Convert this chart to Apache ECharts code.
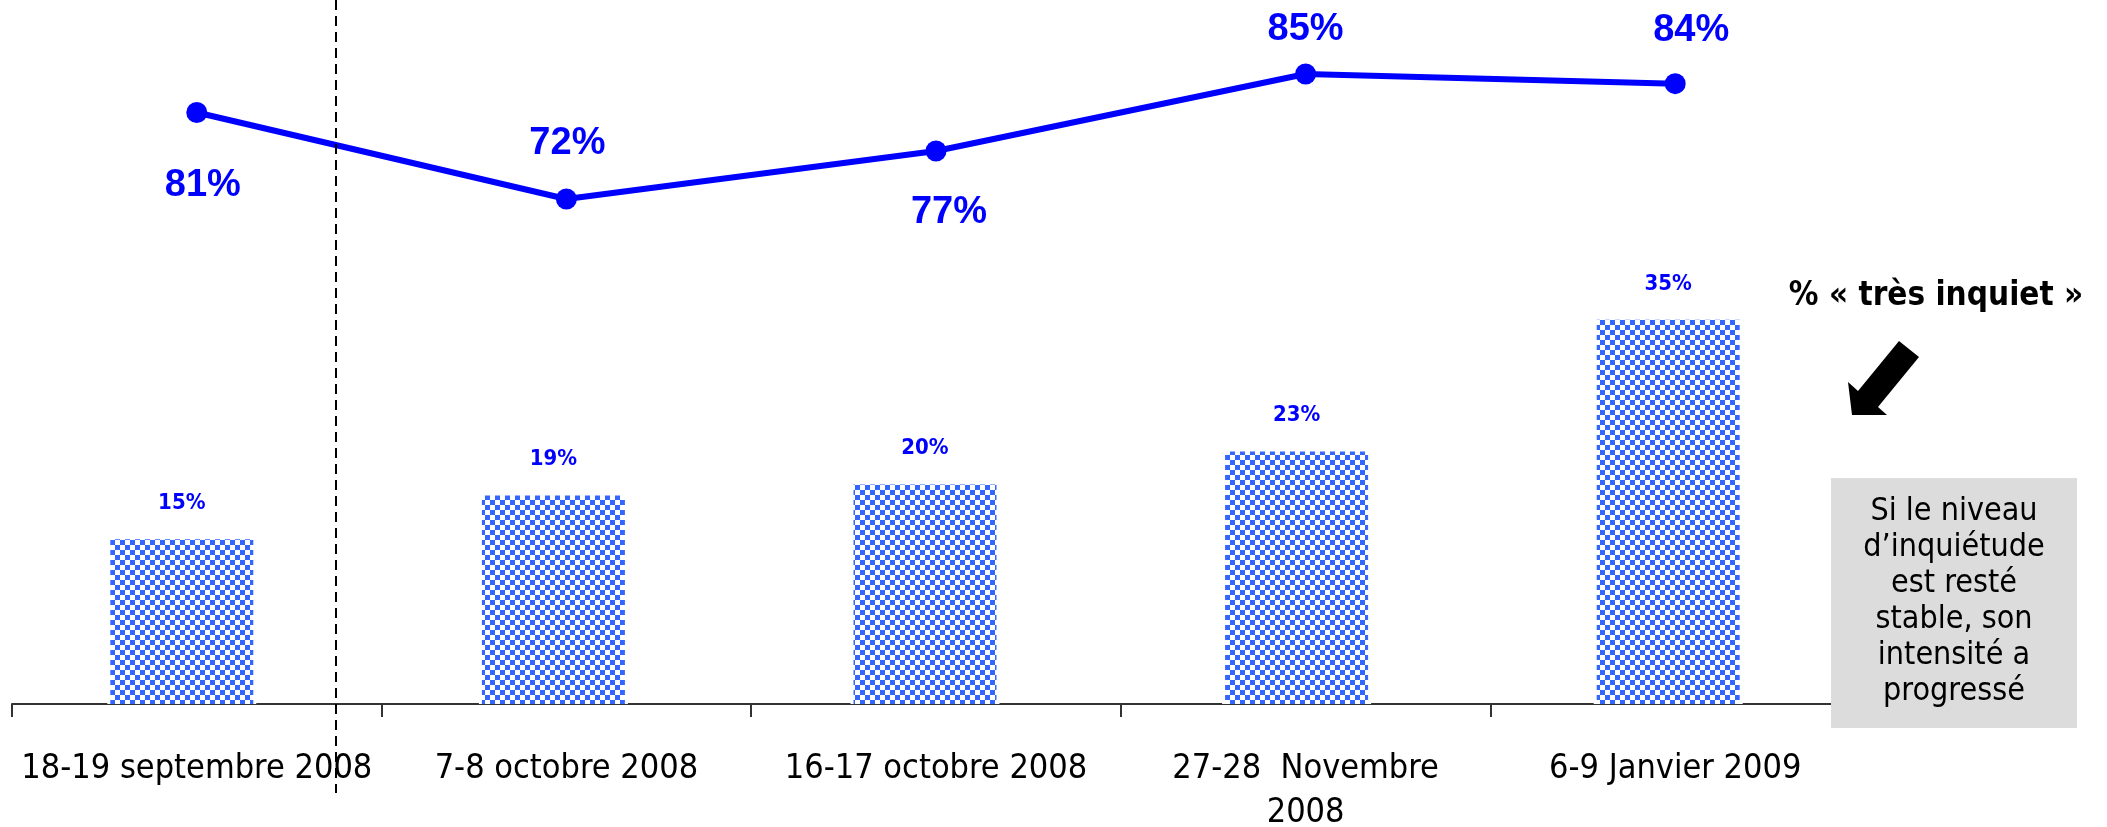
<!DOCTYPE html>
<html>
<head>
<meta charset="utf-8">
<script src="https://cdn.jsdelivr.net/npm/echarts@6/dist/echarts.min.js"></script>
<style>
  html, body { margin: 0; padding: 0; background: #fff; }
  #chart { width: 2107px; height: 827px; }
</style>
</head>
<body>
<div id="chart"></div>
<script>
// data
const categories = ['18-19 septembre 2008', '7-8 octobre 2008', '16-17 octobre 2008', '27-28  Novembre\n2008', '6-9 Janvier 2009'];
const inquietValues = [81, 72, 77, 85, 84];
const tresInquietValues = [15, 19, 20, 23, 35];

const condensed = "'DejaVu Sans Condensed', 'DejaVu Sans', sans-serif";
const blue = '#0000FF';

// checkerboard fill for the bars
function checker() {
    const c = document.createElement('canvas');
    c.width = 10;
    c.height = 10;
    const ctx = c.getContext('2d');
    ctx.fillStyle = '#ffffff';
    ctx.fillRect(0, 0, 10, 10);
    ctx.fillStyle = '#3366FF';
    ctx.fillRect(0, 0, 5, 5);
    ctx.fillRect(5, 5, 5, 5);
    return c;
}

// where each line label sits around its point
const lineLabelPlace = [
    { position: 'bottom', distance: 44, dx: 6 },
    { position: 'top', distance: 26, dx: 1 },
    { position: 'bottom', distance: 32, dx: 13 },
    { position: 'top', distance: 15, dx: 0 },
    { position: 'top', distance: 24, dx: 16 }
];

const chart = echarts.init(document.getElementById('chart'));

const option = {
    animation: false,
    backgroundColor: '#fff',
    grid: [
        { left: 12, right: 247, top: 30, bottom: 123, containLabel: false, outerBoundsMode: 'none' },
        // bars sit a little left of the line points in the original
        { left: -4, right: 253, top: 30, bottom: 123, containLabel: false, outerBoundsMode: 'none' }
    ],
    xAxis: [
        {
            type: 'category',
            gridIndex: 0,
            data: categories,
            axisLine: { lineStyle: { color: '#333', width: 2 } },
            axisTick: { show: true, length: 13, lineStyle: { color: '#333', width: 2 } },
            axisLabel: {
                interval: 0,
                margin: 43,
                color: '#000',
                fontSize: 34,
                lineHeight: 44,
                fontFamily: condensed
            },
            splitLine: { show: false }
        },
        { type: 'category', gridIndex: 1, data: categories, show: false },
        // hidden twin axis for the white masks that break the axis line round each bar
        { type: 'category', gridIndex: 1, data: categories, show: false }
    ],
    yAxis: [
        { type: 'value', gridIndex: 1, min: 0, max: 61.4, show: false, splitLine: { show: false } },
        { type: 'value', gridIndex: 0, min: 19.48, max: 89.58, show: false, splitLine: { show: false } }
    ],
    series: [
        {
            name: 'mask',
            type: 'bar',
            xAxisIndex: 2,
            yAxisIndex: 0,
            barWidth: 149,
            data: tresInquietValues,
            itemStyle: { color: '#fff', borderColor: '#fff', borderWidth: 5 },
            silent: true,
            z: 2
        },
        {
            name: '% très inquiet',
            type: 'bar',
            xAxisIndex: 1,
            yAxisIndex: 0,
            barWidth: 143,
            data: tresInquietValues,
            itemStyle: {
                color: { image: checker(), repeat: 'repeat' }
            },
            label: {
                show: true,
                position: 'top',
                distance: 25,
                color: blue,
                fontWeight: 'bold',
                fontSize: 22,
                fontFamily: condensed,
                formatter: (p) => p.value + '%'
            },
            z: 3
        },
        {
            name: '% inquiet',
            type: 'line',
            xAxisIndex: 0,
            yAxisIndex: 1,
            data: inquietValues.map((v, i) => ({
                value: v,
                label: {
                    position: lineLabelPlace[i].position,
                    distance: lineLabelPlace[i].distance,
                    offset: [lineLabelPlace[i].dx, 0]
                }
            })),
            symbol: 'circle',
            symbolSize: 21,
            lineStyle: { color: blue, width: 6 },
            itemStyle: { color: blue },
            label: {
                show: true,
                color: blue,
                fontWeight: 'bold',
                fontSize: 38,
                lineHeight: 38,
                fontFamily: "'Liberation Sans', Arial, sans-serif",
                formatter: (p) => p.value + '%'
            },
            z: 4
        }
    ],
    graphic: [
        {
            type: 'line',
            z: 50,
            shape: { x1: 336, y1: 0, x2: 336, y2: 793 },
            style: { stroke: '#000', lineWidth: 2, lineDash: [10, 6] }
        },
        {
            type: 'text',
            z: 50,
            style: {
                x: 1936, y: 296,
                text: '% « très inquiet »',
                fill: '#000',
                fontSize: 33,
                fontWeight: 'bold',
                fontFamily: condensed,
                align: 'center',
                verticalAlign: 'middle'
            }
        },
        {
            type: 'polygon',
            z: 50,
            shape: {
                points: [
                    [1899, 341], [1919, 357], [1878, 407], [1887, 415],
                    [1852, 415], [1848, 382], [1858, 391]
                ]
            },
            style: { fill: '#000' }
        },
        {
            type: 'rect',
            z: 50,
            shape: { x: 1831, y: 478, width: 246, height: 250 },
            style: { fill: '#DCDCDC' }
        },
        {
            type: 'text',
            z: 51,
            style: {
                x: 1954, y: 602,
                text: 'Si le niveau\nd’inquiétude\nest resté\nstable, son\nintensité a\nprogressé',
                fill: '#000',
                fontSize: 32,
                lineHeight: 36,
                fontFamily: condensed,
                align: 'center',
                verticalAlign: 'middle'
            }
        }
    ]
};

chart.setOption(option);
</script>
</body>
</html>
